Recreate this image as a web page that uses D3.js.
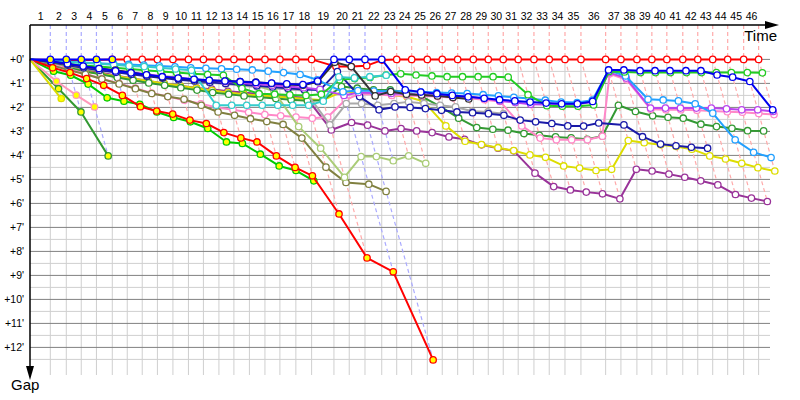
<!DOCTYPE html>
<html>
<head>
<meta charset="utf-8">
<script src="https://cdnjs.cloudflare.com/ajax/libs/d3/7.8.5/d3.min.js"></script>
<style>
  body { margin: 0; background: #fff; }
  svg { display: block; }
</style>
</head>
<body>
<svg id="chart" width="800" height="400"></svg>
<script>
// Leader's lap times, seconds (lap 1..46).
const lapSeconds = [182, 143, 134, 136, 142, 134, 134, 136, 139, 139, 134, 139, 134, 139, 139, 134, 143, 141, 200, 137,
  141, 150, 134, 134, 140, 134, 138, 140, 134, 134, 134, 141, 137, 141, 143, 221, 137, 143, 134, 134,
  143, 134, 134, 134, 143, 134];
// Who led each lap: B = blue car, R = red car (colours the lap lines).
const lapLeader = "BBBBBRRRRRRRRRRRRRBBBRRRRRRRRRRRRRRRRRRRRRRRRR";
const gapTicks = d3.range(0, 13);

// Gap to the leader in minutes, one value per lap from lap 1.
const redGaps = [0.02, 0.02, 0.02, 0.02, 0, 0, 0, 0, 0, 0, 0, 0, 0, 0, 0, 0, 0, 0, 0.3, 0.3,
  0.26, 0.03, 0, 0, 0, 0, 0, 0, 0, 0, 0, 0, 0, 0, 0, 0, 0, 0, 0, 0, 0, 0, 0, 0, 0, 0];
const blueYGaps = [0, 0, 0, 0, 0];
const yellowYGaps = [1.63];
const darkGreenYGaps = [1.22, 2.19, 4.02];
const pinkYGaps = [0.91, 1.49, 1.98];
const greenYGaps = [0.49, 0.66, 1.03, 1.6, 1.74, 1.87, 2.19, 2.42, 2.6, 2.88, 3.44, 3.5, 3.95, 4.44, 4.63, 5.06];
const redYGaps = [0.35, 0.55, 0.8, 1.08, 1.5, 1.97, 2.15, 2.28, 2.53, 2.67, 3.05, 3.27, 3.44, 4.02, 4.5, 4.85,
  6.44, 8.27, 8.85, 12.52];
const oliveGaps = [0.25, 0.45, 0.62, 0.82, 1.02, 1.22, 1.42, 1.55, 1.66, 1.91, 2.19, 2.33, 2.47, 2.59, 2.71, 3.28,
  4.49, 5.13, 5.2, 5.5];
const lightOliveGaps = [0.15, 0.28, 0.38, 0.47, 0.53, 0.6, 0.65, 0.7, 0.73, 0.87, 0.94, 0.97, 1.05, 1.08, 1.33, 2.8,
  3.7, 4.91, 4.05, 4.05, 4.22, 4.02, 4.33];
const tealGaps = [0.05, 0.1, 0.14, 0.18, 0.22, 0.27, 0.3, 0.35, 0.4, 0.45, 1.91, 1.91, 1.91, 1.91, 1.91, 1.91,
  1.91, 1.74, 0.73, 0.77, 0.72, 0.66];
const blackGaps = [0.1, 0.2, 0.3, 0.38, 0.45, 0.55, 0.65, 0.75, 0.8, 0.85, 0.88, 0.9, 0.92, 0.95, 1.0, 1.05,
  1.08, 0.93, 0.12, 0.3, 1.52, 1.34, 1.45, 1.48, 1.52, 1.59, 1.65];
const royalGaps = [0.08, 0.18, 0.28, 0.38, 0.48, 0.56, 0.64, 0.72, 0.78, 0.83, 0.87, 0.9, 0.93, 0.96, 0.99, 1.02,
  1.05, 0.9, 0, 0, 0, 0, 1.27, 1.36, 1.43, 1.5, 1.56, 1.62, 1.68, 1.73, 1.78, 1.82, 1.85, 1.85, 1.75,
  0.44, 0.44, 0.47, 0.47, 0.47, 0.47, 0.47, 0.65, 0.74, 0.92, 2.1];
const navyGaps = [0.12, 0.24, 0.35, 0.45, 0.54, 0.62, 0.7, 0.78, 0.85, 0.9, 0.95, 1.0, 1.05, 1.1, 1.15, 1.2,
  1.25, 1.27, 0.51, 1.55, 2.1, 1.98, 2.0, 2.05, 2.12, 2.19, 2.22, 2.26, 2.33, 2.53, 2.6, 2.67, 2.77, 2.78,
  2.65, 2.73, 3.22, 3.53, 3.6, 3.66, 3.7];
const skyGaps = [0.06, 0.1, 0.13, 0.16, 0.19, 0.21, 0.24, 0.27, 0.31, 0.35, 0.37, 0.39, 0.41, 0.44, 0.49, 0.55,
  0.63, 0.85, 1.35, 1.3, 1.32, 1.33, 1.33, 1.35, 1.38, 1.4, 1.42, 1.47, 1.52, 1.58, 1.63, 1.7, 1.78, 1.8,
  1.7, 0.45, 0.69, 1.66, 1.69, 1.73, 1.85, 2.24, 3.35, 3.87, 4.09];
const magentaGaps = [0.1, 0.2, 0.3, 0.38, 0.46, 0.54, 0.62, 0.7, 0.77, 0.83, 0.88, 0.93, 0.98, 1.03, 1.08, 1.13,
  1.18, 1.25, 1.5, 1.38, 1.4, 1.42, 1.44, 1.47, 1.5, 1.53, 1.56, 1.63, 1.73, 1.8, 1.87, 1.88, 1.87, 1.87,
  1.77, 0.55, 0.78, 2.03, 2.03, 2.03, 2.03, 2.03, 2.06, 2.1, 2.1, 2.17];
const purpleGaps = [0.15, 0.3, 0.42, 0.55, 0.68, 0.8, 0.9, 1.0, 1.1, 1.19, 1.24, 1.33, 1.38, 1.45, 1.52, 1.56,
  1.6, 2.94, 2.63, 2.74, 2.98, 2.88, 2.98, 3.05, 3.23, 3.33, 3.56, 3.7, 3.81, 4.74, 5.3, 5.44, 5.53, 5.6,
  5.81, 4.58, 4.65, 4.78, 4.91, 5.06, 5.23, 5.63, 5.78, 5.92];
const grayGaps = [0.12, 0.22, 0.32, 0.42, 0.5, 0.6, 0.68, 0.75, 0.82, 0.9, 0.97, 1.03, 1.1, 1.15, 1.2, 1.25,
  1.3, 2.72, 1.84, 1.84, 1.91, 1.84, 1.77, 1.84, 1.91, 1.98, 2.16, 2.19, 2.26];
const yellowGaps = [0.2, 0.35, 0.5, 0.6, 0.7, 0.8, 0.9, 1.0, 1.1, 1.2, 1.3, 1.38, 1.45, 1.5, 1.55, 1.6,
  1.65, 1.7, 1.33, 1.4, 1.42, 1.49, 1.56, 1.74, 2.77, 3.41, 3.55, 3.68, 3.8, 3.98, 4.08, 4.44, 4.53, 4.63,
  4.58, 3.38, 3.47, 3.56, 3.63, 3.74, 4.02, 4.15, 4.33, 4.51, 4.65];
const pinkGaps = [0.2, 0.4, 0.6, 0.8, 1.0, 1.2, 1.4, 1.55, 1.7, 1.85, 2.0, 2.1, 2.2, 2.3, 2.35, 2.4,
  2.45, 2.4, 1.69, 1.45, 1.45, 1.5, 1.5, 1.52, 1.55, 1.6, 1.62, 1.68, 1.75, 2.77, 3.28, 3.35, 3.35, 3.35,
  3.2, 0.6, 0.85, 2.08, 2.1, 2.1, 2.12, 2.15, 2.18, 2.2, 2.25, 2.3];
const darkGreenGaps = [0.2, 0.35, 0.5, 0.62, 0.75, 0.87, 0.98, 1.08, 1.18, 1.28, 1.38, 1.45, 1.52, 1.58, 1.63, 1.68,
  1.72, 1.7, 1.13, 1.2, 1.27, 1.27, 1.38, 1.55, 1.97, 2.45, 2.84, 2.91, 2.95, 3.09, 3.16, 3.23, 3.27, 3.33,
  3.19, 1.91, 2.17, 2.35, 2.41, 2.45, 2.7, 2.8, 2.87, 2.97, 2.98];
const limeGaps = [0.1, 0.18, 0.25, 0.3, 0.35, 0.4, 0.45, 0.5, 0.55, 0.6, 0.63, 0.66, 1.2, 1.43, 1.45, 1.48,
  1.5, 1.45, 0.85, 0.8, 0.75, 0.65, 0.6, 0.65, 0.69, 0.72, 0.72, 0.72, 0.72, 0.74, 1.47, 1.93, 1.95, 1.95,
  1.9, 0.5, 0.52, 0.55, 0.55, 0.55, 0.55, 0.55, 0.55, 0.55, 0.55, 0.56];

// Drawing order: first listed is drawn at the bottom.
const cars = [
  { gaps: redGaps, color: "#ff0000", fill: "#ffffff" },
  { gaps: purpleGaps, color: "#993399", fill: "#ffffff" },
  { gaps: yellowGaps, color: "#dddd00", fill: "#ffffff" },
  { gaps: darkGreenGaps, color: "#339933", fill: "#ffffff" },
  { gaps: pinkGaps, color: "#ff88c8", fill: "#ffffff" },
  { gaps: grayGaps, color: "#aaaaaa", fill: "#ffffff" },
  { gaps: oliveGaps, color: "#808040", fill: "#ffffff" },
  { gaps: lightOliveGaps, color: "#aacc77", fill: "#ffffff" },
  { gaps: navyGaps, color: "#1a1aa8", fill: "#ffffff" },
  { gaps: magentaGaps, color: "#bb44ee", fill: "#ffffff" },
  { gaps: skyGaps, color: "#22a0ff", fill: "#ffffff" },
  { gaps: limeGaps, color: "#22cc22", fill: "#ffffff" },
  { gaps: tealGaps, color: "#33cccc", fill: "#ffffff" },
  { gaps: blackGaps, color: "#333333", fill: "#ffffff" },
  { gaps: royalGaps, color: "#0000ee", fill: "#ffffff" },
  { gaps: greenYGaps, color: "#00cc00", fill: "#ffff00" },
  { gaps: redYGaps, color: "#ff0000", fill: "#ffff00" },
  { gaps: darkGreenYGaps, color: "#339933", fill: "#ffff00" },
  { gaps: pinkYGaps, color: "#ff99bb", fill: "#ffff00" },
  { gaps: yellowYGaps, color: "#dddd00", fill: "#ffff00" },
  { gaps: blueYGaps, color: "#0000ff", fill: "#ffff00" }
];

const svg = d3.select("#chart");
const font = "Liberation Sans, Arial, sans-serif";

// Time the leader crosses the line at the end of each lap (index 0 = start).
const crossing = [0];
lapSeconds.forEach(s => crossing.push(crossing[crossing.length - 1] + s));

const x = d3.scaleLinear().domain([0, 6627]).range([30, 770]);
const y = d3.scaleLinear().domain([0, 13.15]).range([59.4, 375]);

// Grid.
const grid = svg.append("g");
grid.selectAll("line.v")
  .data(crossing.slice(1))
  .join("line")
  .attr("x1", d => x(d)).attr("x2", d => x(d))
  .attr("y1", y(0)).attr("y2", y.range()[1])
  .attr("stroke", "#cfcfcf");
grid.selectAll("line.h")
  .data(d3.range(0, 13, 0.5))
  .join("line")
  .attr("x1", x.range()[0]).attr("x2", x.range()[1])
  .attr("y1", d => y(d)).attr("y2", d => y(d))
  .attr("stroke", d => d % 1 === 0 ? "#808080" : "#cfcfcf");

// Lap lines: vertical from the axis to the leader, then through everyone on that lap.
const lapLines = lapSeconds.map((s, i) => {
  const lap = i + 1;
  const maxGap = d3.max(cars.filter(c => c.gaps.length >= lap), c => c.gaps[lap - 1]);
  return { t: crossing[lap], maxGap, color: lapLeader[i] === "B" ? "#aaaaff" : "#ffaaaa" };
});
svg.append("g").selectAll("path")
  .data(lapLines)
  .join("path")
  .attr("d", d => `M${x(d.t)},25V${y(0)}L${x(d.t + d.maxGap * 60)},${y(d.maxGap)}`)
  .attr("fill", "none")
  .attr("stroke", d => d.color)
  .attr("stroke-width", 1.2)
  .attr("stroke-dasharray", "4,3");

// Cars.
const line = d3.line().x(d => x(d.t)).y(d => y(d.g));
cars.forEach(car => {
  const pts = [{ t: 0, g: 0 }].concat(car.gaps.map((g, i) => ({ t: crossing[i + 1] + g * 60, g })));
  const g = svg.append("g");
  g.append("path")
    .attr("d", line(pts))
    .attr("fill", "none")
    .attr("stroke", car.color)
    .attr("stroke-width", 2)
    .attr("stroke-linejoin", "round");
  g.selectAll("circle")
    .data(pts.slice(1))
    .join("circle")
    .attr("cx", d => x(d.t))
    .attr("cy", d => y(d.g))
    .attr("r", 3.2)
    .attr("fill", car.fill)
    .attr("stroke", car.color)
    .attr("stroke-width", 1.3);
});

// Lap numbers centred on each lap.
const lapAxis = svg.append("g")
  .attr("transform", "translate(0,25)")
  .call(d3.axisTop(x)
    .tickValues(lapSeconds.map((s, i) => crossing[i] + s / 2))
    .tickFormat((d, i) => i + 1)
    .tickSize(0)
    .tickPadding(5));
lapAxis.select(".domain").remove();
lapAxis.selectAll("text").attr("font-family", font).attr("font-size", 10.5).attr("fill", "#000");

const gapAxis = svg.append("g")
  .attr("transform", "translate(30,0)")
  .call(d3.axisLeft(y)
    .tickValues(gapTicks)
    .tickFormat(d => `+${d}'`)
    .tickSize(0)
    .tickPadding(6));
gapAxis.select(".domain").remove();
gapAxis.selectAll("text").attr("font-family", font).attr("font-size", 10.5).attr("fill", "#000");

// Axis lines with arrows.
svg.append("line").attr("x1", 30).attr("x2", 772).attr("y1", 25).attr("y2", 25)
  .attr("stroke", "#000").attr("stroke-width", 1.5);
svg.append("path").attr("d", "M779,25L765,21L765,29Z").attr("fill", "#000");
svg.append("line").attr("x1", 30).attr("x2", 30).attr("y1", 25).attr("y2", 372)
  .attr("stroke", "#000").attr("stroke-width", 1.5);
svg.append("path").attr("d", "M30,380L26,366L34,366Z").attr("fill", "#000");

svg.append("text").attr("x", 777).attr("y", 41).attr("text-anchor", "end")
  .attr("font-family", font).attr("font-size", 15).text("Time");
svg.append("text").attr("x", 11).attr("y", 390)
  .attr("font-family", font).attr("font-size", 15).text("Gap");
</script>
</body>
</html>
